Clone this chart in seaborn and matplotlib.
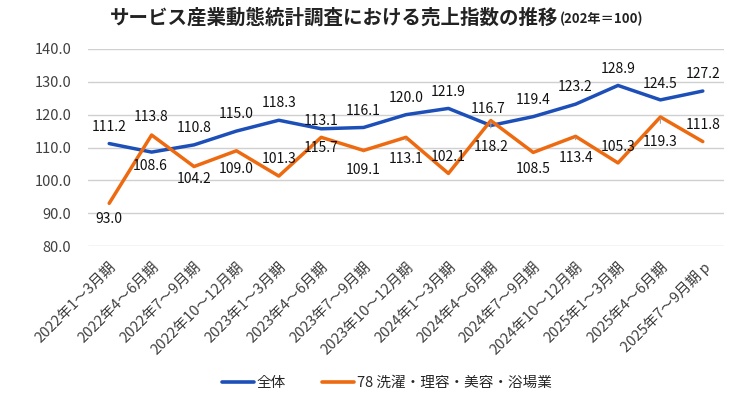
import matplotlib
matplotlib.use("Agg")
import matplotlib.pyplot as plt
import seaborn as sns
import pandas as pd

categories = ["2022年1～3月期", "2022年4～6月期", "2022年7～9月期", "2022年10～12月期",
              "2023年1～3月期", "2023年4～6月期", "2023年7～9月期", "2023年10～12月期",
              "2024年1～3月期", "2024年4～6月期", "2024年7～9月期", "2024年10～12月期",
              "2025年1～3月期", "2025年4～6月期", "2025年7～9月期 p"]
total = [111.2, 108.6, 110.8, 115.0, 118.3, 115.7, 116.1, 120.0, 121.9, 116.7,
         119.4, 123.2, 128.9, 124.5, 127.2]
laundry = [93.0, 113.8, 104.2, 109.0, 101.3, 113.1, 109.1, 113.1, 102.1, 118.2,
           108.5, 113.4, 105.3, 119.3, 111.8]
series_names = ["全体", "78 洗濯・理容・美容・浴場業"]
yticks = [80, 90, 100, 110, 120, 130, 140]

# label offsets in pixels (dx, dy)
total_off = [(0, 17), (-1, -14), (0, 17), (0, 17), (0, 17), (0, -19), (0, 16), (0, 17),
             (0, 16), (-3, 17), (0, 17), (0, 17), (0, 16), (0, 16), (0, 17)]
laundry_off = [(0, -16), (0, 18), (0, -12), (0, -18), (0, 17), (0, 16), (0, -20), (0, -22),
               (0, 16), (0, -26), (0, -17), (0, -22), (0, 16), (0, -25), (0, 17)]
leader = [False, False, False, False, False, False, True, True,
          False, True, False, True, False, True, False]

sns.set_theme(style="white")
plt.rcParams['font.family'] = ['Noto Sans CJK JP', 'DejaVu Sans']

df = pd.DataFrame({
    "period": categories * 2,
    "value": total + laundry,
    "series": [series_names[0]] * len(categories) + [series_names[1]] * len(categories),
})

blue = "#1d4fb8"
orange = "#ee6a10"

fig = plt.figure(figsize=(7.5, 3.96), dpi=100)
ax = fig.add_axes([88 / 750, 1 - 246 / 396, (724 - 88) / 750, (246 - 49) / 396])

sns.lineplot(data=df, x="period", y="value", hue="series", sort=False,
             palette=[blue, orange], linewidth=2.5, ax=ax, legend=True)

ax.set_ylim(80, 140)
ax.set_xlim(-0.5, len(categories) - 0.5)
ax.set_yticks(yticks)
ax.set_yticklabels([f"{v:.1f}" for v in yticks], fontsize=10.5, color="#404040")
ax.set_xticks(range(len(categories)))
ax.set_xticklabels(categories, rotation=45, ha="right", rotation_mode="anchor",
                   fontsize=10.5, color="#404040")
ax.tick_params(axis="x", length=0, pad=10)
ax.tick_params(axis="y", length=0, pad=12)
ax.set_xlabel("")
ax.set_ylabel("")
ax.grid(axis="y", color="#d0d0d0", linewidth=1)
ax.set_axisbelow(True)
for s in ax.spines.values():
    s.set_visible(False)

for i, (v, (dx, dy)) in enumerate(zip(total, total_off)):
    ax.annotate(f"{v:.1f}", (i, v), xytext=(dx, dy), textcoords="offset pixels",
                ha="center", va="center", fontsize=10, color="#111111")
for i, (v, (dx, dy)) in enumerate(zip(laundry, laundry_off)):
    kw = {}
    if leader[i]:
        kw["arrowprops"] = dict(arrowstyle="-", color="#a0a0a0", lw=0.8, shrinkA=6, shrinkB=1)
    ax.annotate(f"{v:.1f}", (i, v), xytext=(dx, dy), textcoords="offset pixels",
                ha="center", va="center", fontsize=10, color="#111111", **kw)

leg = ax.legend(loc="center", bbox_to_anchor=(0.47, -(383 - 246) / 197), ncol=2,
                frameon=False, fontsize=10.5, handlelength=2.2, columnspacing=2.5,
                handletextpad=0.2)
for h in leg.get_lines():
    h.set_linewidth(2.6)

fig.text(110 / 750, 1 - 18 / 396, "サービス産業動態統計調査における売上指数の推移",
         ha="left", va="center", fontsize=14, fontweight="bold", color="#222222")
fig.text(560 / 750, 1 - 19 / 396, "(202年＝100)", ha="left", va="center",
         fontsize=9.5, fontweight="bold", color="#222222")

fig.savefig("out.png", dpi=100)
